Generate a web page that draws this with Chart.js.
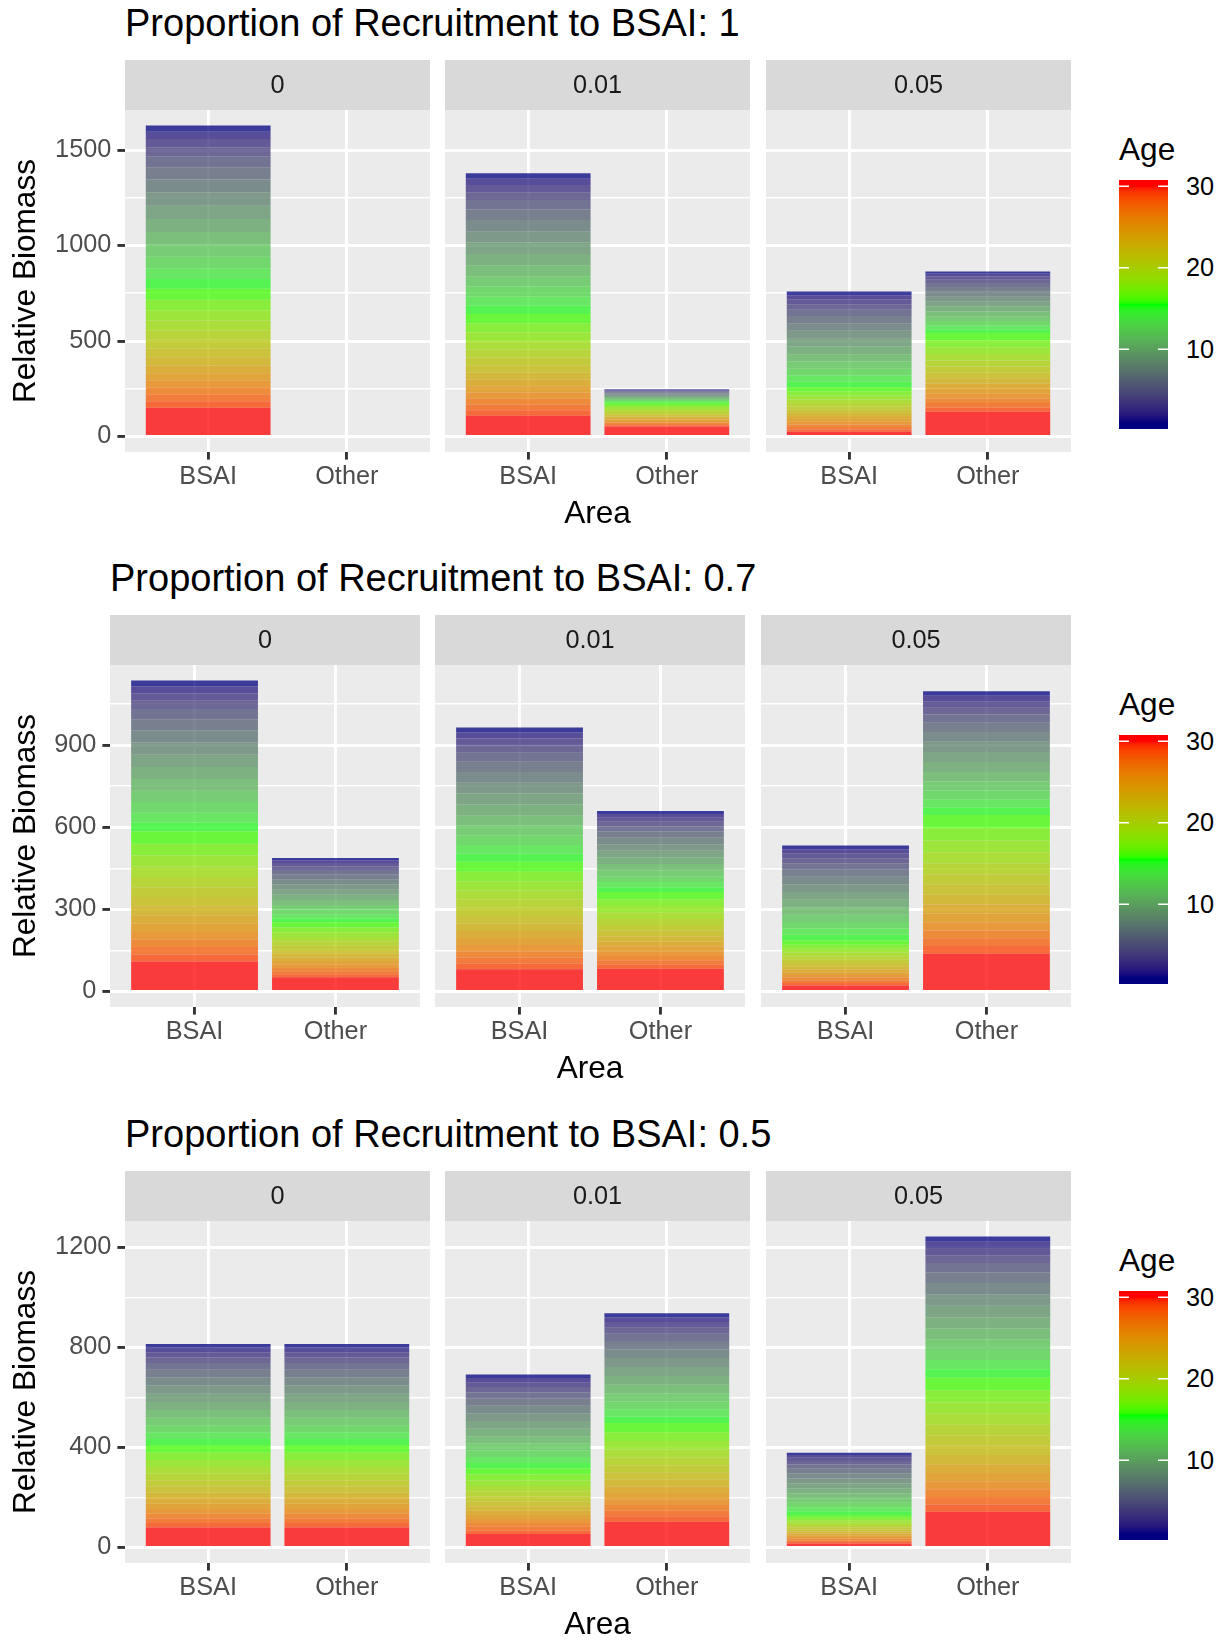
<!DOCTYPE html>
<html>
<head>
<meta charset="utf-8">
<title>Relative biomass by area and age</title>
<script src="https://cdn.jsdelivr.net/npm/chart.js@4.4.1/dist/chart.umd.min.js"></script>
<style>
  body { margin: 0; background: #fff; }
  #page { position: relative; width: 1222px; height: 1640px; overflow: hidden;
          font-family: 'Liberation Sans', Arial, Helvetica, sans-serif; }
  .row { position: absolute; left: 0; width: 1222px; height: 556px; }
  .plot-title { position: absolute; font-size: 38px; line-height: 1; color: #000; white-space: nowrap; }
  .panel, .age-bar { position: absolute; }
  .age-title { position: absolute; font-size: 31.6px; line-height: 1; color: #000; }
  .age-label { position: absolute; font-size: 25.3px; line-height: 1; color: #000; }
</style>
</head>
<body>
<div id="page"></div>
<script>
// values: relative biomass per age class (ages 1..30, 30 = plus group)

const ages = [1, 2, 3, 4, 5, 6, 7, 8, 9, 10, 11, 12, 13, 14, 15,
              16, 17, 18, 19, 20, 21, 22, 23, 24, 25, 26, 27, 28, 29, 30];
const areas = ['BSAI', 'Other'];
const moveRates = ['0', '0.01', '0.05'];
const recruitToBSAI = ['1', '0.7', '0.5'];
const ageBreaks = [10, 20, 30];

// recruitment to BSAI: 1
const rec1_move0_BSAI  = [32, 38, 44, 47, 57, 64, 68, 70, 70, 68, 66, 63, 60, 56, 51,
                          58, 56, 53, 51, 49, 47, 45, 43, 41, 39, 37, 36, 35, 34, 150];
const rec1_move0_Other = [0, 0, 0, 0, 0, 0, 0, 0, 0, 0, 0, 0, 0, 0, 0,
                          0, 0, 0, 0, 0, 0, 0, 0, 0, 0, 0, 0, 0, 0, 0];
const rec1_move1_BSAI  = [28, 33, 38, 41, 49, 55, 59, 60, 60, 59, 57, 54, 52, 48, 44,
                          49, 48, 45, 44, 42, 40, 38, 37, 35, 33, 32, 31, 30, 29, 108];
const rec1_move1_Other = [2.6, 3.1, 3.6, 3.9, 4.7, 5.2, 5.6, 5.7, 5.7, 5.6, 5.4, 5.2, 4.9, 4.6, 4.2,
                          11.6, 11.2, 10.6, 10.2, 9.8, 9.4, 9.0, 8.6, 8.2, 7.8, 7.4, 7.2, 7.0, 6.8, 52];
const rec1_move5_BSAI  = [19, 22, 26, 28, 33, 38, 40, 41, 41, 40, 39, 37, 35, 33, 30,
                          22, 21, 20, 19, 18, 17, 17, 16, 15, 15, 14, 13, 13, 13, 24];
const rec1_move5_Other = [12, 14, 17, 18, 21, 24, 26, 26, 26, 26, 25, 24, 23, 21, 19,
                          38, 37, 35, 34, 32, 31, 30, 28, 27, 26, 25, 24, 23, 23, 129];

// recruitment to BSAI: 0.7
const rec07_move0_BSAI  = [21, 25, 28, 30, 37, 41, 44, 45, 45, 44, 43, 41, 39, 36, 33,
                           44, 43, 40, 39, 37, 36, 34, 33, 31, 30, 28, 27, 27, 26, 109];
const rec07_move0_Other = [9, 10, 12, 13, 16, 18, 19, 19, 19, 19, 18, 17, 17, 15, 14,
                           19, 18, 17, 16, 16, 15, 14, 14, 13, 13, 12, 12, 11, 11, 52];
const rec07_move1_BSAI  = [18, 22, 25, 27, 33, 37, 39, 40, 40, 39, 38, 36, 35, 32, 29,
                           37, 35, 33, 32, 31, 30, 28, 27, 26, 25, 23, 23, 22, 21, 81];
const rec07_move1_Other = [11, 13, 15, 16, 20, 22, 24, 24, 24, 24, 23, 22, 21, 19, 18,
                           26, 25, 24, 23, 22, 21, 20, 19, 18, 18, 17, 16, 16, 15, 83];
const rec07_move5_BSAI  = [13, 15, 18, 19, 23, 26, 28, 28, 28, 28, 27, 26, 24, 23, 21,
                           15, 15, 14, 13, 13, 12, 12, 11, 11, 10, 10, 10, 9, 9, 22];
const rec07_move5_Other = [17, 20, 23, 25, 30, 34, 36, 37, 37, 36, 35, 33, 32, 30, 27,
                           47, 46, 43, 41, 40, 38, 37, 35, 33, 32, 30, 29, 28, 28, 138];

// recruitment to BSAI: 0.5
const rec05_move0_BSAI  = [15, 18, 21, 22, 27, 30, 32, 33, 33, 32, 31, 30, 28, 27, 24,
                           31, 29, 28, 27, 26, 25, 24, 23, 22, 21, 19, 19, 18, 18, 80];
const rec05_move0_Other = [15, 18, 21, 22, 27, 30, 32, 33, 33, 32, 31, 30, 28, 27, 24,
                           31, 29, 28, 27, 26, 25, 24, 23, 22, 21, 19, 19, 18, 18, 80];
const rec05_move1_BSAI  = [14, 17, 19, 21, 25, 28, 30, 31, 31, 30, 29, 28, 26, 24, 22,
                           24, 24, 22, 21, 21, 20, 19, 18, 17, 16, 16, 15, 15, 14, 54];
const rec05_move1_Other = [16, 19, 23, 24, 29, 33, 35, 36, 36, 35, 34, 32, 31, 29, 26,
                           37, 35, 34, 32, 31, 30, 28, 27, 26, 25, 23, 23, 22, 22, 103];
const rec05_move5_BSAI  = [9, 11, 13, 14, 17, 19, 20, 20, 20, 20, 19, 18, 18, 16, 15,
                           11, 10, 10, 9, 9, 9, 8, 8, 7, 7, 7, 7, 6, 6, 16];
const rec05_move5_Other = [21, 25, 29, 31, 38, 42, 45, 46, 46, 45, 44, 42, 40, 37, 34,
                           50, 48, 45, 44, 42, 40, 39, 37, 35, 33, 32, 31, 30, 29, 143];

// y axis breaks of each row
const yBreaksRec1 = [0, 500, 1000, 1500];
const yBreaksRec07 = [0, 300, 600, 900];
const yBreaksRec05 = [0, 400, 800, 1200];

const rows = [
  { share: recruitToBSAI[0], breaks: yBreaksRec1,
    panels: [[rec1_move0_BSAI, rec1_move0_Other], [rec1_move1_BSAI, rec1_move1_Other], [rec1_move5_BSAI, rec1_move5_Other]] },
  { share: recruitToBSAI[1], breaks: yBreaksRec07,
    panels: [[rec07_move0_BSAI, rec07_move0_Other], [rec07_move1_BSAI, rec07_move1_Other], [rec07_move5_BSAI, rec07_move5_Other]] },
  { share: recruitToBSAI[2], breaks: yBreaksRec05,
    panels: [[rec05_move0_BSAI, rec05_move0_Other], [rec05_move1_BSAI, rec05_move1_Other], [rec05_move5_BSAI, rec05_move5_Other]] }
];

// layout (px)
const FONT = "'Liberation Sans', Arial, Helvetica, sans-serif";
const ROW_STEP = 555.4;
const STRIP_TOP = 60, STRIP_H = 50, PANEL_BOTTOM = 452, X_AXIS_H = 90;
const PANEL_LEFT = [[125, 445, 766], [110, 435, 761], [125, 445, 766]];
const PANEL_W = [305, 310, 305];
const BAR_X = 1119, BAR_TOP = 180, BAR_W = 49, BAR_H = 249;
const TICK_SIZE = 25.3, AXIS_TITLE_SIZE = 31.6;

Chart.defaults.font.family = FONT;

// ggplot-like gradient (navy -> green -> red, interpolated in Lab)
function toLin(c) { c /= 255; return c <= 0.04045 ? c / 12.92 : Math.pow((c + 0.055) / 1.055, 2.4); }
function toSrgb(c) {
  const v = c <= 0.0031308 ? 12.92 * c : 1.055 * Math.pow(c, 1 / 2.4) - 0.055;
  return Math.round(Math.max(0, Math.min(1, v)) * 255);
}
function rgbToLab(rgb) {
  const r = toLin(rgb[0]), g = toLin(rgb[1]), b = toLin(rgb[2]);
  const f = t => t > 0.008856 ? Math.cbrt(t) : 7.787 * t + 16 / 116;
  const fx = f((0.4124 * r + 0.3576 * g + 0.1805 * b) / 0.95047);
  const fy = f(0.2126 * r + 0.7152 * g + 0.0722 * b);
  const fz = f((0.0193 * r + 0.1192 * g + 0.9505 * b) / 1.08883);
  return [116 * fy - 16, 500 * (fx - fy), 200 * (fy - fz)];
}
function labToRgb(lab) {
  const fy = (lab[0] + 16) / 116, fx = fy + lab[1] / 500, fz = fy - lab[2] / 200;
  const fi = t => t * t * t > 0.008856 ? t * t * t : (t - 16 / 116) / 7.787;
  const X = fi(fx) * 0.95047, Y = fi(fy), Z = fi(fz) * 1.08883;
  return [toSrgb(3.2406 * X - 1.5372 * Y - 0.4986 * Z),
          toSrgb(-0.9689 * X + 1.8758 * Y + 0.0415 * Z),
          toSrgb(0.0557 * X - 0.2040 * Y + 1.0570 * Z)];
}
const stops = [[0, 0, 128], [0, 255, 0], [255, 0, 0]].map(rgbToLab);
function ageColor(age, alpha) {
  let t = (age - 1) / 29, i = 0;
  if (t > 0.5) { i = 1; t = (t - 0.5) * 2; } else { t = t * 2; }
  const a = stops[i], b = stops[i + 1];
  const c = labToRgb([a[0] + (b[0] - a[0]) * t, a[1] + (b[1] - a[1]) * t, a[2] + (b[2] - a[2]) * t]);
  return `rgba(${c[0]}, ${c[1]}, ${c[2]}, ${alpha})`;
}

// grey panel background + facet strip
const stripPlugin = {
  id: 'strip',
  beforeDraw(chart, args, opts) {
    const { ctx, chartArea: a } = chart;
    ctx.save();
    ctx.fillStyle = '#d9d9d9';
    ctx.fillRect(a.left, a.top - STRIP_H, a.right - a.left, STRIP_H);
    ctx.fillStyle = '#ebebeb';
    ctx.fillRect(a.left, a.top, a.right - a.left, a.bottom - a.top);
    ctx.fillStyle = '#1a1a1a';
    ctx.font = TICK_SIZE + 'px ' + FONT;
    ctx.textAlign = 'center';
    ctx.textBaseline = 'middle';
    ctx.fillText(opts.label, (a.left + a.right) / 2, a.top - STRIP_H / 2 + 1);
    ctx.restore();
  }
};

const sum = arr => arr.reduce((s, v) => s + v, 0);
const page = document.getElementById('page');

function makePanel(rowDiv, r, c, yMax) {
  const row = rows[r];
  const [bsai, other] = row.panels[c];
  const left = c === 0 ? 0 : PANEL_LEFT[r][c];
  const width = PANEL_LEFT[r][c] + PANEL_W[r] - left;
  const height = PANEL_BOTTOM - STRIP_TOP + X_AXIS_H;
  const majors = row.breaks;
  const step = majors[1] - majors[0];
  const minors = majors.map(v => v + step / 2).filter(v => v < yMax * 1.05);
  const yTicks = majors.concat(minors).sort((a, b) => a - b);

  const canvas = document.createElement('canvas');
  canvas.className = 'panel';
  canvas.width = width;
  canvas.height = height;
  canvas.style.left = left + 'px';
  canvas.style.top = STRIP_TOP + 'px';
  canvas.style.width = width + 'px';
  canvas.style.height = height + 'px';
  rowDiv.appendChild(canvas);

  // oldest age first so it sits at the bottom of the stack
  const datasets = [];
  for (let i = ages.length - 1; i >= 0; i--) {
    datasets.push({
      label: 'Age ' + ages[i],
      data: [{ x: 0, y: bsai[i] }, { x: 1, y: other[i] }],
      backgroundColor: ageColor(ages[i], 0.75),
      borderWidth: 0,
      inflateAmount: 0,
      barPercentage: 1,
      categoryPercentage: 0.9
    });
  }

  new Chart(canvas, {
    type: 'bar',
    data: { datasets: datasets },
    plugins: [stripPlugin],
    options: {
      responsive: false,
      animation: false,
      devicePixelRatio: 1,
      layout: { padding: { top: STRIP_H, left: 0, right: 0, bottom: 0 } },
      plugins: {
        legend: { display: false },
        tooltip: { enabled: false },
        strip: { label: moveRates[c] }
      },
      scales: {
        x: {
          type: 'linear',
          min: -0.6,
          max: 1.6,
          offset: false,
          stacked: true,
          afterBuildTicks: s => { s.ticks = [{ value: 0 }, { value: 1 }]; },
          afterFit: s => { s.height = X_AXIS_H; },
          ticks: {
            callback: v => areas[v],
            autoSkip: false,
            maxRotation: 0,
            padding: 2,
            color: '#4d4d4d',
            font: { size: TICK_SIZE }
          },
          grid: { offset: false, color: '#ffffff', lineWidth: 2.9, tickLength: 7.6, tickColor: '#333333', tickWidth: 2.9 },
          border: { display: false },
          title: {
            display: c === 1,
            text: 'Area',
            color: '#000',
            font: { size: AXIS_TITLE_SIZE },
            padding: { top: 0, bottom: 9 }
          }
        },
        y: {
          type: 'linear',
          stacked: true,
          min: -0.05 * yMax,
          max: 1.05 * yMax,
          afterBuildTicks: s => { s.ticks = yTicks.map(v => ({ value: v })); },
          afterFit: s => { s.width = c === 0 ? PANEL_LEFT[r][0] : 0; },
          ticks: {
            display: c === 0,
            callback: v => majors.includes(v) ? String(v) : '',
            padding: 6,
            color: '#4d4d4d',
            font: { size: TICK_SIZE }
          },
          grid: {
            color: '#ffffff',
            lineWidth: ctx => majors.includes(ctx.tick.value) ? 2.9 : 1.5,
            drawTicks: c === 0,
            tickLength: 7.6,
            tickWidth: 2.9,
            tickColor: ctx => majors.includes(ctx.tick.value) ? '#333333' : 'rgba(0,0,0,0)'
          },
          border: { display: false },
          title: {
            display: c === 0,
            text: 'Relative Biomass',
            color: '#000',
            font: { size: AXIS_TITLE_SIZE },
            padding: { top: 7, bottom: 0 }
          }
        }
      }
    }
  });
}

function makeLegend(rowDiv) {
  const title = document.createElement('div');
  title.className = 'age-title';
  title.textContent = 'Age';
  title.style.left = BAR_X + 'px';
  title.style.top = '134px';
  rowDiv.appendChild(title);

  const bar = document.createElement('canvas');
  bar.className = 'age-bar';
  bar.width = BAR_W;
  bar.height = BAR_H;
  bar.style.left = BAR_X + 'px';
  bar.style.top = BAR_TOP + 'px';
  rowDiv.appendChild(bar);
  const ctx = bar.getContext('2d');
  const span = BAR_H - BAR_H / 20, pad = BAR_H / 40;
  for (let y = 0; y < BAR_H; y++) {
    const f = Math.min(1, Math.max(0, (BAR_H - y - 0.5 - pad) / span));
    ctx.fillStyle = ageColor(1 + 29 * f, 1);
    ctx.fillRect(0, y, BAR_W, 1);
  }
  ctx.strokeStyle = '#ffffff';
  ctx.lineWidth = 1.5;
  ageBreaks.forEach(v => {
    const y = BAR_H - ((v - 1) / 29 * span + pad);
    ctx.beginPath();
    ctx.moveTo(0, y); ctx.lineTo(10, y);
    ctx.moveTo(BAR_W - 10, y); ctx.lineTo(BAR_W, y);
    ctx.stroke();
    const lab = document.createElement('div');
    lab.className = 'age-label';
    lab.textContent = String(v);
    lab.style.left = '1186px';
    lab.style.top = (BAR_TOP + y - 12.4) + 'px';
    rowDiv.appendChild(lab);
  });
}

rows.forEach((row, r) => {
  const rowDiv = document.createElement('div');
  rowDiv.className = 'row';
  rowDiv.style.top = Math.round(r * ROW_STEP) + 'px';
  page.appendChild(rowDiv);

  const title = document.createElement('div');
  title.className = 'plot-title';
  title.textContent = 'Proportion of Recruitment to BSAI: ' + row.share;
  title.style.left = PANEL_LEFT[r][0] + 'px';
  title.style.top = '4px';
  rowDiv.appendChild(title);

  const yMax = Math.max(...row.panels.flat().map(sum));
  for (let c = 0; c < 3; c++) makePanel(rowDiv, r, c, yMax);
  makeLegend(rowDiv);
});
</script>
</body>
</html>
